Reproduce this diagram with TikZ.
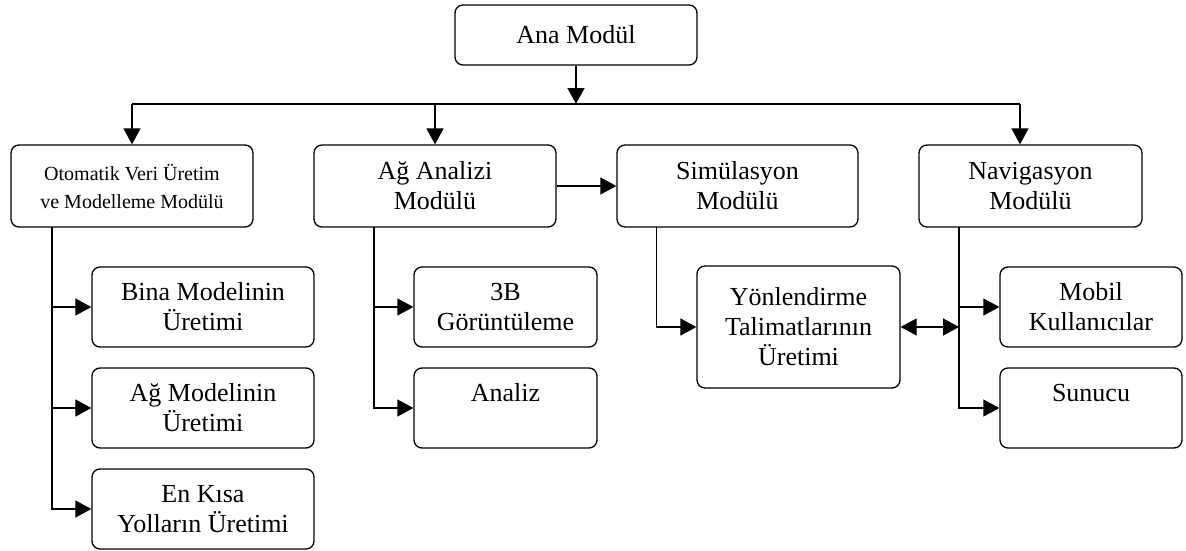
\documentclass[tikz,border=0pt]{standalone}
\usepackage{fontspec}
\setmainfont{Liberation Serif}
\usetikzlibrary{arrows.meta}
\begin{document}
\begin{tikzpicture}[x=1pt,y=-1pt,
  box/.style={draw, rounded corners=8pt, line width=1.3pt, inner sep=0pt, align=center,
    minimum height=80pt, font=\fontsize{26}{30}\selectfont},
  conn/.style={line width=1.3pt},
  tip/.tip={Triangle[length=16pt,width=17pt]},
  arr/.style={conn, -tip},
]
\useasboundingbox (0,0) rectangle (1186,551);
% nodes
\node[box, minimum width=242pt, minimum height=60pt] (ana) at (576,35) {Ana Modül};
\node[box, minimum width=242pt, minimum height=82pt, font=\fontsize{20}{28}\selectfont] (oto) at (132,186) {Otomatik Veri Üretim\\ve Modelleme Modülü};
\node[box, minimum width=242pt, minimum height=82pt] (ag) at (435,186) {Ağ Analizi\\Modülü};
\node[box, minimum width=241pt, minimum height=82pt] (sim) at (737.5,186) {Simülasyon\\Modülü};
\node[box, minimum width=223pt, minimum height=82pt] (nav) at (1030.5,186) {Navigasyon\\Modülü};
\node[box, minimum width=222pt] (bina) at (203,307) {Bina Modelinin\\Üretimi};
\node[box, minimum width=222pt] (agm) at (203,408) {Ağ Modelinin\\Üretimi};
\node[box, minimum width=222pt] (enk) at (203,509) {En Kısa\\Yolların Üretimi};
\node[box, minimum width=183pt] (goru) at (505.5,307) {3B\\Görüntüleme};
\node[box, minimum width=183pt] (analiz) at (505.5,408) {Analiz\\\phantom{Ü}};
\node[box, minimum width=203pt, minimum height=122pt] (yon) at (798.5,327) {Yönlendirme\\Talimatlarının\\Üretimi};
\node[box, minimum width=182pt] (mobil) at (1091,307) {Mobil\\Kullanıcılar};
\node[box, minimum width=182pt] (sunucu) at (1091,408) {Sunucu\\\phantom{Ü}};
% connectors
\coordinate (bus) at (576,104);
\coordinate (bn) at (1020,104);
\draw[arr] (ana) -- (bus);
\draw[conn] (oto.north |- bus) -- (bn);
\draw[arr] (oto.north |- bus) -- (oto.north);
\draw[arr] (ag.north |- bus) -- (ag.north);
\draw[arr] (bn) -- (bn |- nav.north);
\draw[arr] (ag.east) -- (sim.west);
\coordinate (t1) at (52,227);
\draw[arr] (t1) |- (enk.west);
\draw[arr] (t1 |- bina.west) -- (bina.west);
\draw[arr] (t1 |- agm.west) -- (agm.west);
\coordinate (t2) at (374,227);
\draw[arr] (t2) |- (analiz.west);
\draw[arr] (t2 |- goru.west) -- (goru.west);
\coordinate (t3) at (656.5,227);
\draw[arr] (t3) |- (yon.west);
\coordinate (t4) at (959,227);
\draw[arr] (t4) |- (sunucu.west);
\draw[arr] (t4 |- mobil.west) -- (mobil.west);
\draw[conn, tip-tip] (yon.east) -- (t4 |- yon.east);
\end{tikzpicture}
\end{document}
